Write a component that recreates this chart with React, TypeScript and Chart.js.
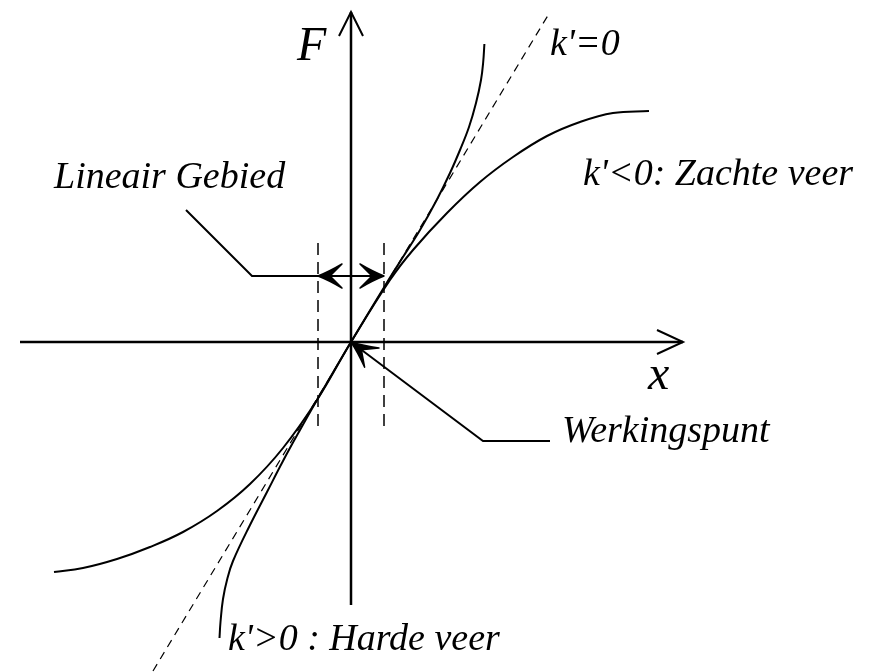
import React, { useEffect, useRef } from "react";
import { Chart, registerables } from "chart.js";

Chart.register(...registerables);

// Hard spring (k' > 0): x and F values
const hardX = [-1.315, -1.305, -1.28, -1.235, -1.18, -1.01, -0.84, -0.68, -0.51, -0.34, 0, 0.357, 0.52, 0.69, 0.857, 0.99, 1.09, 1.18, 1.25, 1.3, 1.322, 1.334];
const hardF = [-2.96, -2.8, -2.57, -2.36, -2.19, -1.83, -1.5, -1.19, -0.88, -0.58, 0, 0.59, 0.85, 1.12, 1.42, 1.69, 1.92, 2.15, 2.39, 2.62, 2.8, 2.98];

// Soft spring (k' < 0)
const softX = [-2.97, -2.68, -2.34, -2.01, -1.68, -1.34, -1.01, -0.68, -0.34, 0, 0.39, 0.62, 0.96, 1.29, 1.62, 1.96, 2.29, 2.62, 2.98];
const softF = [-2.3, -2.26, -2.17, -2.05, -1.9, -1.69, -1.42, -1.06, -0.58, 0, 0.62, 0.92, 1.29, 1.6, 1.85, 2.06, 2.2, 2.29, 2.31];

// Linear (k' = 0) tangent
const linX = [-1.98, 1.99];
const linF = [-3.29, 3.3];

// Axes
const xAxisX = [-3.31, 3.32];
const xAxisF = [0, 0];
const fAxisX = [0, 0];
const fAxisF = [-2.63, 3.3];

// Linear region bounds
const regionX = [-0.33, 0.33];
const regionF = [0.99, -0.9];
const regionArrowF = 0.66;

// Leader lines
const leaderLinX = [-1.65, -0.99, -0.33];
const leaderLinF = [1.32, 0.66, 0.66];
const leaderWerkX = [0, 1.32, 1.99];
const leaderWerkF = [0, -0.99, -0.99];

// Labels
const labelText = ["F", "k'=0", "Lineair Gebied", "k'<0: Zachte veer", "x", "Werkingspunt", "k'>0 : Harde veer"];
const labelX = [-0.54, 1.99, -2.97, 2.32, 2.97, 2.11, -1.23];
const labelF = [2.82, 2.87, 1.54, 1.57, -0.47, -1.0, -3.08];
const labelSize = [48, 38, 38, 38, 48, 38, 38];

const pts = (xs: number[], ys: number[]) => xs.map((x, i) => ({ x, y: ys[i] }));

export default function App() {
  const ref = useRef<HTMLCanvasElement | null>(null);

  useEffect(() => {
    document.body.style.margin = "0";
    const canvas = ref.current;
    if (!canvas) return;

    const annot = {
      id: "annot",
      afterDatasetsDraw(chart: any) {
        const ctx = chart.ctx as CanvasRenderingContext2D;
        const sx = chart.scales.x;
        const sy = chart.scales.y;
        const P = (x: number, y: number) => [sx.getPixelForValue(x), sy.getPixelForValue(y)];

        const openHead = (tip: number[], from: number[], len: number, half: number) => {
          const dx = from[0] - tip[0], dy = from[1] - tip[1];
          const L = Math.hypot(dx, dy);
          const ux = dx / L, uy = dy / L;
          const nx = -uy, ny = ux;
          ctx.beginPath();
          ctx.moveTo(tip[0] + ux * len + nx * half, tip[1] + uy * len + ny * half);
          ctx.lineTo(tip[0], tip[1]);
          ctx.lineTo(tip[0] + ux * len - nx * half, tip[1] + uy * len - ny * half);
          ctx.strokeStyle = "#000";
          ctx.lineWidth = 2;
          ctx.stroke();
        };
        const filledHead = (tip: number[], from: number[], len: number, half: number, notch: number) => {
          const dx = from[0] - tip[0], dy = from[1] - tip[1];
          const L = Math.hypot(dx, dy);
          const ux = dx / L, uy = dy / L;
          const nx = -uy, ny = ux;
          ctx.beginPath();
          ctx.moveTo(tip[0], tip[1]);
          ctx.quadraticCurveTo(
            tip[0] + ux * len * 0.45 + nx * half * 0.35, tip[1] + uy * len * 0.45 + ny * half * 0.35,
            tip[0] + ux * len + nx * half, tip[1] + uy * len + ny * half
          );
          ctx.lineTo(tip[0] + ux * notch, tip[1] + uy * notch);
          ctx.lineTo(tip[0] + ux * len - nx * half, tip[1] + uy * len - ny * half);
          ctx.quadraticCurveTo(
            tip[0] + ux * len * 0.45 - nx * half * 0.35, tip[1] + uy * len * 0.45 - ny * half * 0.35,
            tip[0], tip[1]
          );
          ctx.closePath();
          ctx.fillStyle = "#000";
          ctx.fill();
          ctx.lineWidth = 1.5;
          ctx.strokeStyle = "#000";
          ctx.lineJoin = "round";
          ctx.stroke();
        };

        ctx.save();
        // axis arrowheads
        openHead(P(xAxisX[1], xAxisF[1]), P(xAxisX[0], xAxisF[0]), 26, 12);
        openHead(P(fAxisX[1], fAxisF[1]), P(fAxisX[0], fAxisF[0]), 24, 12);
        // double arrow of linear region
        const a = P(regionX[0], regionArrowF), b = P(regionX[1], regionArrowF);
        filledHead(a, b, 24, 12, 12);
        filledHead(b, a, 24, 12, 12);
        // operating point arrow
        filledHead(P(leaderWerkX[0], leaderWerkF[0]), P(leaderWerkX[1], leaderWerkF[1]), 26, 12, 13);

        // labels
        ctx.fillStyle = "#000";
        ctx.textAlign = "left";
        ctx.textBaseline = "alphabetic";
        labelText.forEach((t, i) => {
          ctx.font = `italic ${labelSize[i]}px "Liberation Serif", "Times New Roman", serif`;
          const p = P(labelX[i], labelF[i]);
          ctx.fillText(t, p[0], p[1]);
        });
        ctx.restore();
      },
    };

    const line = (data: any, extra: any = {}) => ({
      data,
      showLine: true,
      borderColor: "#000",
      borderWidth: 2,
      pointRadius: 0,
      fill: false,
      tension: 0,
      ...extra,
    });

    const chart = new Chart(canvas, {
      type: "scatter",
      data: {
        datasets: [
          line(pts(xAxisX, xAxisF), { borderWidth: 2.5 }),
          line(pts(fAxisX, fAxisF), { borderWidth: 2.5 }),
          line(pts(linX, linF), { borderWidth: 1.2, borderDash: [8, 6] }),
          line(pts([regionX[0], regionX[0]], regionF), { borderWidth: 1.5, borderDash: [12, 7] }),
          line(pts([regionX[1], regionX[1]], regionF), { borderWidth: 1.5, borderDash: [12, 7] }),
          line(pts(hardX, hardF), { tension: 0.4 }),
          line(pts(softX, softF), { tension: 0.4 }),
          line(pts(leaderLinX, leaderLinF)),
          line(pts(regionX, [regionArrowF, regionArrowF])),
          line(pts(leaderWerkX, leaderWerkF)),
        ],
      },
      options: {
        animation: false,
        responsive: false,
        maintainAspectRatio: false,
        devicePixelRatio: 1,
        layout: { padding: 0 },
        plugins: { legend: { display: false }, tooltip: { enabled: false } },
        events: [],
        scales: {
          x: { type: "linear", min: -3.51, max: 5.21, display: false },
          y: { type: "linear", min: -3.3, max: 3.42, display: false },
        },
      },
      plugins: [annot],
    });
    return () => chart.destroy();
  }, []);

  return (
    <div style={{ width: 872, height: 672, background: "#fff" }}>
      <canvas ref={ref} width={872} height={672} style={{ display: "block" }} />
    </div>
  );
}
